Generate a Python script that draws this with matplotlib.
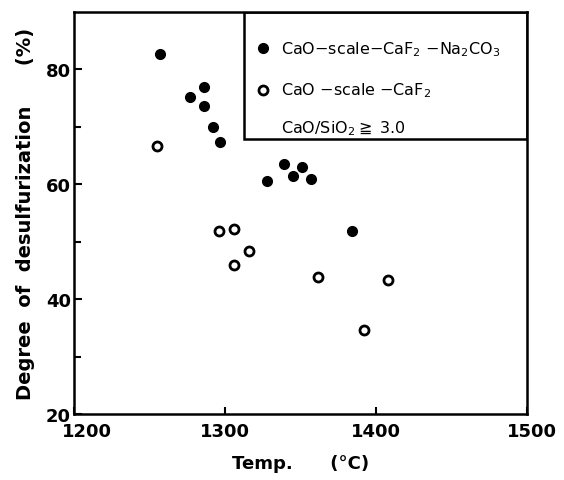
import matplotlib
matplotlib.use("Agg")
import matplotlib.pyplot as plt
from matplotlib.patches import Rectangle
from matplotlib.transforms import ScaledTranslation

# Data
temp_na = [1257, 1277, 1286, 1286, 1292, 1297, 1339, 1351, 1345, 1357, 1328, 1384]
desulf_na = [82.7, 75.2, 76.9, 73.7, 69.9, 67.4, 63.6, 63.0, 61.4, 60.9, 60.5, 51.8]

temp_caf = [1255, 1296, 1306, 1316, 1306, 1362, 1408, 1392]
desulf_caf = [66.6, 51.8, 52.3, 48.4, 46.0, 43.8, 43.4, 34.7]

xticks = [1200, 1300, 1400, 1500]
yticks = [20, 40, 60, 80]
yminor = [30, 50, 70]

label_na = "CaO$-$scale$-$CaF$_2$ $-$Na$_2$CO$_3$"
label_caf = "CaO $-$scale $-$CaF$_2$"
label_ratio = "CaO/SiO$_2$$\\geqq$ 3.0"

plt.rcParams['font.family'] = ['DejaVu Sans']
plt.rcParams['mathtext.fontset'] = 'dejavusans'

fig = plt.figure(figsize=(5.64, 4.81), dpi=100)
ax = fig.add_axes([0.131, 0.137, 0.803, 0.836])

ax.plot(temp_na, desulf_na, 'o', color='black', markersize=7, linestyle='none')
ax.plot(temp_caf, desulf_caf, 'o', markerfacecolor='white', markeredgecolor='black',
        markeredgewidth=2, markersize=6.5, linestyle='none')

ax.set_xlim(1200, 1500)
ax.set_ylim(20, 90)
ax.set_xticks(xticks)
ax.set_yticks(yticks)
ax.set_yticks(yminor, minor=True)
ax.tick_params(axis='both', which='major', direction='in', length=6, width=1.5,
               labelsize=13, pad=6)
ax.tick_params(axis='y', which='major', pad=2)
ax.tick_params(axis='y', which='minor', direction='in', length=5, width=1.5)
ax.tick_params(axis='x', which='major', length=5)
for lab in ax.get_xticklabels() + ax.get_yticklabels():
    lab.set_fontweight('bold')
xl = ax.get_xticklabels()
xl[0].set_transform(xl[0].get_transform() + ScaledTranslation(0.13, 0, fig.dpi_scale_trans))
xl[-1].set_transform(xl[-1].get_transform() + ScaledTranslation(0.05, 0, fig.dpi_scale_trans))
for sp in ax.spines.values():
    sp.set_linewidth(1.8)

ax.set_xlabel("Temp.      (°C)", fontsize=13, fontweight='bold', labelpad=10)
ax.set_ylabel("Degree  of  desulfurization      (%)", fontsize=14, fontweight='bold')
ax.yaxis.set_label_coords(-0.085, 0.5)

# Legend box
ax.add_patch(Rectangle((0.376, 0.684), 0.624, 0.316, transform=ax.transAxes,
                       fill=False, edgecolor='black', linewidth=1.8, zorder=5))
ax.plot([0.418], [0.91], 'o', color='black', markersize=7, transform=ax.transAxes, clip_on=False)
ax.plot([0.418], [0.806], 'o', markerfacecolor='white', markeredgecolor='black',
        markeredgewidth=2, markersize=6.5, transform=ax.transAxes, clip_on=False)
ax.text(0.458, 0.91, label_na, transform=ax.transAxes, fontsize=11.5, va='center', ha='left')
ax.text(0.458, 0.806, label_caf, transform=ax.transAxes, fontsize=11.5, va='center', ha='left')
ax.text(0.458, 0.712, label_ratio, transform=ax.transAxes, fontsize=11.5, va='center', ha='left')

fig.savefig("out.png", dpi=100)
